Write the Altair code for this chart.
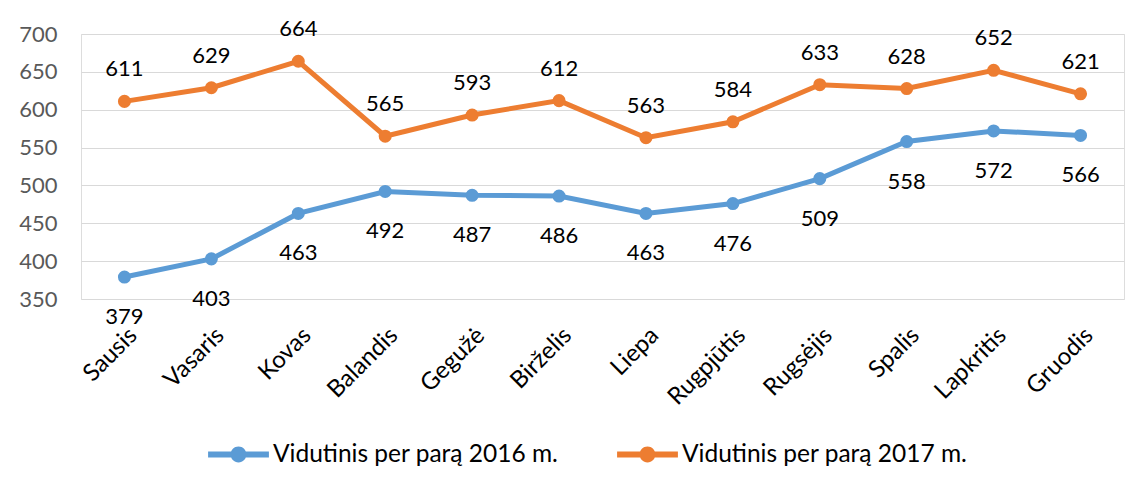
import altair as alt
import pandas as pd

months = ["Sausis", "Vasaris", "Kovas", "Balandis", "Gegužė", "Birželis",
          "Liepa", "Rugpjūtis", "Rugsėjis", "Spalis", "Lapkritis", "Gruodis"]
values_2016 = [379, 403, 463, 492, 487, 486, 463, 476, 509, 558, 572, 566]
values_2017 = [611, 629, 664, 565, 593, 612, 563, 584, 633, 628, 652, 621]
series_names = ["Vidutinis per parą 2016 m.", "Vidutinis per parą 2017 m."]
series_colors = ["#5B9BD5", "#ED7D31"]
y_ticks = [350, 400, 450, 500, 550, 600, 650, 700]

rows = []
for m, v in zip(months, values_2016):
    rows.append({"month": m, "value": v, "series": series_names[0]})
for m, v in zip(months, values_2017):
    rows.append({"month": m, "value": v, "series": series_names[1]})
df = pd.DataFrame(rows)

FONT = "Lato"
legend_path = ("M-1,-0.1 L1,-0.1 L1,0.1 L-1,0.1 Z "
               "M-0.26,0 A0.26,0.26 0 1,1 0.26,0 A0.26,0.26 0 1,1 -0.26,0 Z")

x = alt.X("month:N", sort=months, title=None,
          scale=alt.Scale(paddingInner=0, paddingOuter=0.5),
          axis=alt.Axis(labelAngle=-45, labelFontSize=24, labelColor="#000000",
                        labelFont=FONT, domain=False, ticks=False, grid=False,
                        labelPadding=24))
y = alt.Y("value:Q", title=None,
          scale=alt.Scale(domain=[350, 700], nice=False, zero=False),
          axis=alt.Axis(values=y_ticks, labelFontSize=22, labelColor="#595959",
                        labelFont=FONT, domain=False, ticks=False,
                        gridColor="#D9D9D9", gridWidth=1, labelPadding=24))
color = alt.Color("series:N", title=None,
                  scale=alt.Scale(domain=series_names, range=series_colors),
                  legend=alt.Legend(orient="none", legendX=127, legendY=390,
                                    direction="horizontal",
                                    symbolType=legend_path, symbolSize=3700,
                                    symbolStrokeWidth=0, labelFontSize=24.5,
                                    labelFont=FONT, labelColor="#000000",
                                    labelLimit=0, columnPadding=58, labelOffset=4))

base = alt.Chart(df)
lines = base.mark_line(strokeWidth=5).encode(x=x, y=y, color=color)
points = base.mark_point(filled=True, size=170, opacity=1).encode(x=x, y=y, color=color)

lbl_2017 = base.transform_filter(alt.datum.series == series_names[1]).mark_text(
    dy=-32, fontSize=22, font=FONT, color="#000000"
).encode(x=x, y=y, text="value:Q")
lbl_2016 = base.transform_filter(alt.datum.series == series_names[0]).mark_text(
    dy=40, fontSize=22, font=FONT, color="#000000"
).encode(x=x, y=y, text="value:Q")

chart = alt.layer(lines, points, lbl_2017, lbl_2016).properties(
    width=1043, height=265,
    padding={"left": 10, "top": 10, "right": 10, "bottom": 5}
).configure_view(stroke=None).configure(background="#FFFFFF")

chart.save("out.html", embed_options={"renderer": "svg", "actions": False})
